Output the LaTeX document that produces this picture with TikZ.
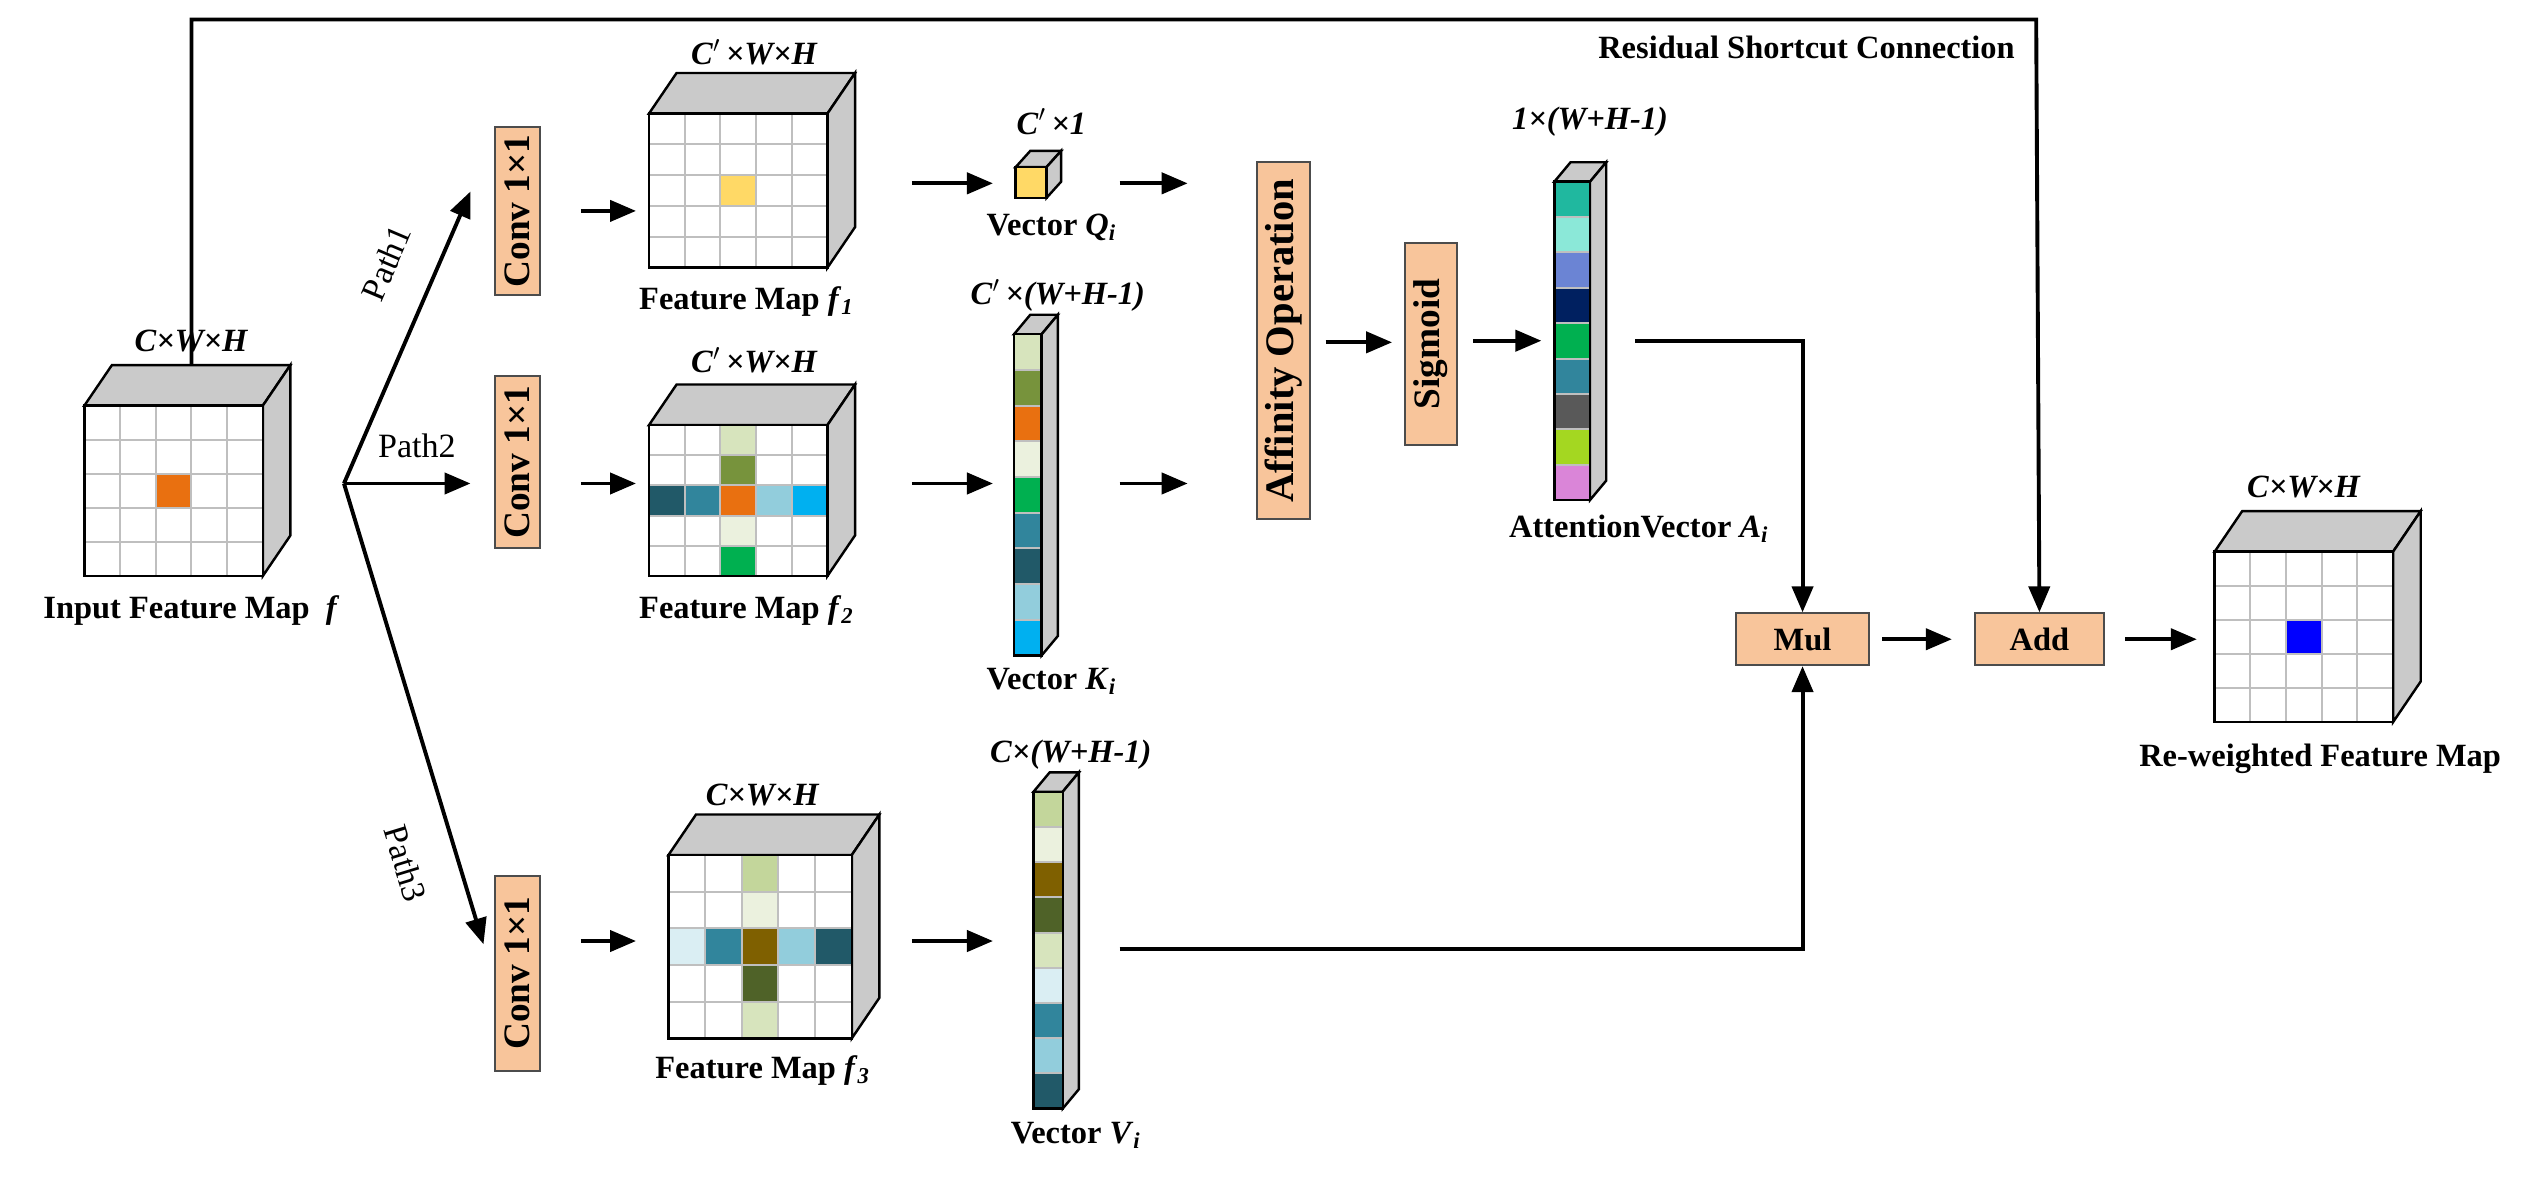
\documentclass[tikz,border=0pt]{standalone}
\usepackage{fontspec}
\setmainfont{Liberation Serif}
\usetikzlibrary{arrows.meta}
\definecolor{sideg}{HTML}{CACACA}
\definecolor{gridc}{HTML}{BFBFBF}
\definecolor{boxc}{HTML}{F8C59B}
\definecolor{org}{HTML}{E97010}
\definecolor{yel}{HTML}{FFD966}
\definecolor{ka}{HTML}{D7E4BD}\definecolor{kb}{HTML}{77933C}\definecolor{kc}{HTML}{EBF1DE}
\definecolor{kd}{HTML}{00B050}\definecolor{ke}{HTML}{31859C}\definecolor{kf}{HTML}{215968}
\definecolor{kg}{HTML}{92CDDC}\definecolor{kh}{HTML}{00B0F0}
\definecolor{va}{HTML}{C3D69B}\definecolor{vb}{HTML}{7F6000}\definecolor{vc}{HTML}{4F6228}
\definecolor{vd}{HTML}{DAEEF3}
\definecolor{aa}{HTML}{20B89F}\definecolor{ab}{HTML}{8BE8D8}\definecolor{ac}{HTML}{6B84D4}
\definecolor{ad}{HTML}{002060}\definecolor{ae}{HTML}{595959}\definecolor{af}{HTML}{A4D721}
\definecolor{ag}{HTML}{DA85D8}
\definecolor{blu}{HTML}{0000FF}
\tikzset{
  every node/.style={font=\fontsize{20}{24}\selectfont\bfseries, inner sep=1pt},
  cl/.style={draw=black, line width=1.5pt},
  gl/.style={draw=gridc, line width=1.2pt},
  box/.style={draw=black!70, line width=1.2pt, fill=boxc, inner sep=0pt},
  bigt/.style={font=\fontsize{23}{26}\selectfont\bfseries},
  arr/.style={line width=2.4pt, -{Triangle[length=16pt,width=13pt]}},
  pl/.style={font=\fontsize{21}{24}\selectfont}
}
\newcommand\gmap[5]{%
  \pgfmathsetmacro\cw{#3/5}\pgfmathsetmacro\ch{#4/5}%
  \filldraw[cl,fill=sideg] (#1,-#2) -- ++(17,25) -- ++(#3,0) -- ++(-17,-25) -- cycle;
  \filldraw[cl,fill=sideg] ({#1+#3},-#2) -- ++(17,25) -- ++(0,-#4) -- ++(-17,-25) -- cycle;
  \fill[white] (#1,-#2) rectangle ++(#3,-#4);
  \foreach \c/\r/\k in {#5} \fill[\k] ({#1+\c*\cw},{-#2-\r*\ch}) rectangle ++(\cw,-\ch);
  \foreach \i in {1,...,4} {\draw[gl] ({#1+\i*\cw},-#2) -- ++(0,-#4);
    \draw[gl] (#1,{-#2-\i*\ch}) -- ++(#3,0);}
  \draw[cl] (#1,-#2) rectangle ++(#3,-#4);
}
\newcommand\vcol[6]{%
  \pgfmathsetmacro\hh{#4*#5}%
  \filldraw[cl,fill=sideg] (#1,-#2) -- ++(10,12) -- ++(#3,0) -- ++(-10,-12) -- cycle;
  \filldraw[cl,fill=sideg] ({#1+#3},-#2) -- ++(10,12) -- ++(0,-\hh) -- ++(-10,-12) -- cycle;
  \foreach \k [count=\n from 0] in {#6} {\fill[\k] (#1,{-#2-\n*#4}) rectangle ++(#3,-#4);
    \draw[gl] (#1,{-#2-\n*#4}) -- ++(#3,0);}
  \draw[cl] (#1,-#2) rectangle ++(#3,-\hh);
}
\newcommand\pr{$^{\prime}$\,}
\begin{document}
\begin{tikzpicture}[x=1pt,y=1pt]
\useasboundingbox (0,0) rectangle (1568,-727);
\gmap{52}{250}{110}{105}{2/2/org}
\node (lin) at (118,-210) {\textit{C×W×H}};
\node (tin) at (118,-376) {Input Feature Map \ \textit{f}};
\coordinate (intop) at (118,-225);
\coordinate (br) at (212,-298);
\coordinate (r1) at (118,-12);
\coordinate (r2) at (1255,-12);
\node[box, minimum width=79pt, minimum height=32pt] (add) at (1257,-394) {Add};
\node[box, minimum width=82pt, minimum height=32pt] (mul) at (1111,-394) {Mul};
\draw[arr] (intop) -- (r1) -- (r2) -- (add.north);
\node[anchor=east] (res) at (1243,-29) {Residual Shortcut Connection};
\node[box, bigt, rotate=90, minimum width=104pt, minimum height=28pt] (c1) at (319,-130) {Conv 1×1};
\node[box, bigt, rotate=90, minimum width=106pt, minimum height=28pt] (c2) at (319,-285) {Conv 1×1};
\node[box, bigt, rotate=90, minimum width=120pt, minimum height=28pt] (c3) at (319,-600) {Conv 1×1};
\coordinate (p1) at (290,-118);
\coordinate (p2) at (290,-298);
\coordinate (p3) at (298,-582);
\draw[arr] (br) -- (p1);
\draw[arr] (br) -- (p2);
\draw[arr] (br) -- (p3);
\node[pl, rotate=67] (pt1) at (238,-162) {Path1};
\node[pl] (pt2) at (257,-275) {Path2};
\node[pl, rotate=-73] (pt3) at (250,-532) {Path3};
\gmap{400}{70}{110}{95}{2/2/yel}
\node (l1) at (465,-32) {\textit{C}\pr\textit{×W×H}};
\node (t1) at (460,-186) {Feature Map \textit{f}\textsubscript{\textit{1}}};
\gmap{400}{262}{110}{93}{2/0/ka,2/1/kb,2/3/kc,2/4/kd,0/2/kf,1/2/ke,2/2/org,3/2/kg,4/2/kh}
\node (l2) at (465,-222) {\textit{C}\pr\textit{×W×H}};
\node (t2) at (460,-376) {Feature Map \textit{f}\textsubscript{\textit{2}}};
\gmap{412}{527}{113}{113}{2/0/va,2/1/kc,2/3/vc,2/4/ka,0/2/vd,1/2/ke,2/2/vb,3/2/kg,4/2/kf}
\node (l3) at (470,-490) {\textit{C×W×H}};
\node (t3) at (470,-660) {Feature Map \textit{f}\textsubscript{\textit{3}}};
\foreach \y/\n in {130/1,298/2,580/3}{
  \coordinate (a\n) at (358,-\y); \coordinate (b\n) at (392,-\y);
  \draw[arr] (a\n) -- (b\n);}
\filldraw[cl,fill=sideg] (626,-103) -- ++(9,10) -- ++(19,0) -- ++(-9,-10) -- cycle;
\filldraw[cl,fill=sideg] (645,-103) -- ++(9,10) -- ++(0,-19) -- ++(-9,-10) -- cycle;
\filldraw[cl,fill=yel] (626,-103) rectangle ++(19,-19);
\node (lq) at (648,-75) {\textit{C}\pr\textit{×1}};
\node (tq) at (648,-140) {Vector \textit{Q}\textsubscript{\textit{i}}};
\vcol{625}{206}{17}{22}{9}{ka,kb,org,kc,kd,ke,kf,kg,kh}
\node (lk) at (652,-182) {\textit{C}\pr\textit{×(W+H-1)}};
\node (tk) at (648,-420) {Vector \textit{K}\textsubscript{\textit{i}}};
\vcol{637}{488}{18}{21.7}{9}{va,kc,vb,vc,ka,vd,ke,kg,kf}
\node (lv) at (660,-465) {\textit{C×(W+H-1)}};
\node (tv) at (663,-700) {Vector \textit{V}\textsubscript{\textit{i}}};
\foreach \y/\n in {113/q,298/k,580/v}{
  \coordinate (m\n) at (562,-\y); \coordinate (n\n) at (612,-\y);
  \draw[arr] (m\n) -- (n\n);}
\node[box, rotate=90, minimum width=220pt, minimum height=33pt, font=\fontsize{25}{28}\selectfont\bfseries] (aff) at (791,-210) {Affinity Operation};
\coordinate (q1) at (690,-113); \coordinate (q2) at (732,-113);
\coordinate (k1) at (690,-298); \coordinate (k2) at (732,-298);
\draw[arr] (q1) -- (q2); \draw[arr] (k1) -- (k2);
\node[box, bigt, rotate=90, minimum width=125pt, minimum height=32pt] (sig) at (882,-212) {Sigmoid};
\coordinate (af1) at (817,-211); \coordinate (af2) at (858,-211);
\draw[arr] (af1) -- (af2);
\coordinate (s1) at (908,-210); \coordinate (s2) at (950,-210);
\draw[arr] (s1) -- (s2);
\vcol{958}{112}{22}{21.8}{9}{aa,ab,ac,ad,kd,ke,ae,af,ag}
\node (la) at (980,-75) {\textit{1×(W+H-1)}};
\node (ta) at (1010,-326) {AttentionVector \textit{A}\textsubscript{\textit{i}}};
\coordinate (at1) at (1008,-210); \coordinate (at2) at (1111,-210);
\draw[arr] (at1) -- (at2) -- (mul.north);
\coordinate (v1) at (690,-585); \coordinate (v2) at (1111,-585);
\draw[arr] (v1) -- (v2) -- (mul.south);
\coordinate (mu1) at (1160,-394); \coordinate (mu2) at (1203,-394);
\draw[arr] (mu1) -- (mu2);
\coordinate (o1) at (1310,-394); \coordinate (o2) at (1354,-394);
\draw[arr] (o1) -- (o2);
\gmap{1365}{340}{110}{105}{2/2/blu}
\node (lo) at (1420,-300) {\textit{C×W×H}};
\node (to) at (1430,-468) {Re-weighted Feature Map};
\end{tikzpicture}
\end{document}
